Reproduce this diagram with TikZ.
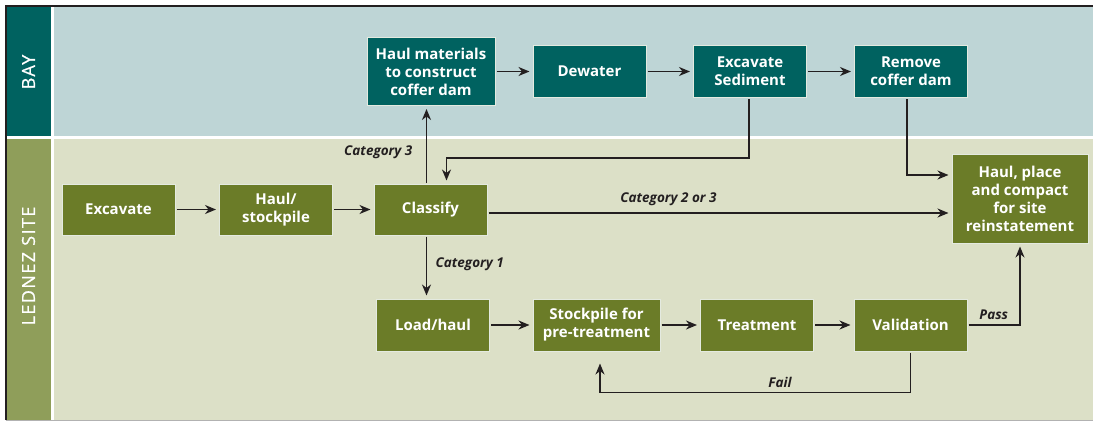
\documentclass[tikz,border=0pt]{standalone}
\usepackage{fontspec}
\setmainfont{Open Sans}
\newfontfamily\lanefont[LetterSpace=8,FakeBold=0.8]{Open Sans}
\usetikzlibrary{arrows.meta,calc}
\definecolor{bayteal}{RGB}{0,98,96}
\definecolor{baybg}{RGB}{190,213,214}
\definecolor{siteolive}{RGB}{107,124,40}
\definecolor{sitelabel}{RGB}{143,158,90}
\definecolor{sitebg}{RGB}{220,224,199}
\definecolor{boxedge}{RGB}{228,234,224}
\definecolor{arrowgray}{RGB}{35,31,32}

\begin{document}
\begin{tikzpicture}[x=1pt,y=-1pt,
  box/.style={draw=boxedge,line width=1pt,text=white,align=center,
    minimum width=113pt,minimum height=52pt,inner sep=2pt,
    font=\fontsize{15}{18}\selectfont\bfseries},
  baybox/.style={box,fill=bayteal},
  sitebox/.style={box,fill=siteolive},
  arr/.style={draw=arrowgray,line width=1.6pt,
    -{Stealth[length=11pt,width=9pt,inset=3.5pt]},shorten >=3pt,shorten <=1pt},
  cat/.style={font=\fontsize{13.5}{16}\selectfont\bfseries\itshape,text=arrowgray}]
  \useasboundingbox (0,0) rectangle (1093,421);
  \def\lane#1#2#3#4#5#6{
    \fill[#3] (6,#1) rectangle (51,#2);
    \fill[#4] (54,#1) rectangle (1093,#2);
    \node[rotate=90,text=white,font=\lanefont\fontsize{18}{20}\selectfont] (#6) at (28.5,#5) {#6};
  }
  % lanes
  \lane{7}{136}{bayteal}{baybg}{72}{BAY}
  \lane{139}{420}{sitelabel}{sitebg}{266}{LEDNEZ SITE}
  \draw[arrowgray,line width=1.5pt] (6,420) -- (6,6) -- (1093,6);
  \draw[gray!60,line width=1pt] (6,420) -- (1093,420);
  % bay row
  \node[baybox,minimum width=128pt,minimum height=68pt] (haulmat) at (431,71.5) {Haul materials\\to construct\\coffer dam};
  \node[baybox] (dewater) at (589.5,71.5) {Dewater};
  \node[baybox] (exsed) at (750,71.5) {Excavate\\Sediment};
  \node[baybox] (remove) at (911,71.5) {Remove\\coffer dam};
  % site rows
  \node[sitebox,minimum height=51pt] (excav) at (118.5,209.5) {Excavate};
  \node[sitebox,minimum height=51pt] (haulst) at (276,209.5) {Haul/\\stockpile};
  \node[sitebox,minimum height=51pt] (classify) at (430.5,209.5) {Classify};
  \node[sitebox,minimum width=136pt,minimum height=89pt] (place) at (1020,198.5) {Haul, place\\and compact\\for site\\reinstatement};
  \node[sitebox] (loadhaul) at (433,325) {Load/haul};
  \node[sitebox,minimum width=127pt] (stock) at (596.5,325) {Stockpile for\\pre-treatment};
  \node[sitebox] (treat) at (757,325) {Treatment};
  \node[sitebox] (valid) at (910.5,325) {Validation};
  % chains
  \foreach \a/\b in {haulmat/dewater,dewater/exsed,exsed/remove,excav/haulst,haulst/classify,loadhaul/stock,stock/treat,treat/valid} {
    \draw[arr] (\a) -- (\b);
  }
  % branches
  \draw[arr] ([xshift=-4pt]classify.north) -- node[cat,pos=0.41,left=10pt] {Category 3} ([xshift=-4pt]classify.north |- haulmat.south);
  \coordinate (ret) at (749,158);
  \draw[arr] (exsed.south -| ret) -- (ret) -| ([xshift=16pt]classify.north);
  \draw[arr] ([xshift=-4pt]remove.south) |- ([yshift=23.5pt]place.west);
  \draw[arr] ([yshift=-3.5pt]classify.east) -- node[cat,pos=0.39,above=3pt] {Category 2 or 3} ([yshift=-3.5pt]classify.east -| place.west);
  \draw[arr] ([xshift=-4pt]classify.south) -- node[cat,pos=0.45,right=5pt] {Category 1} ([xshift=-4pt]classify.south |- loadhaul.north);
  \draw[arr] (valid.east) -| node[cat,pos=0.25,above=1pt] {Pass} (place.south);
  \draw[arr,shorten >=12pt] (valid.south) -- ++(0,41) -| node[cat,pos=0.21,above=1pt] {Fail} ([xshift=3.5pt]stock.south);
\end{tikzpicture}
\end{document}
